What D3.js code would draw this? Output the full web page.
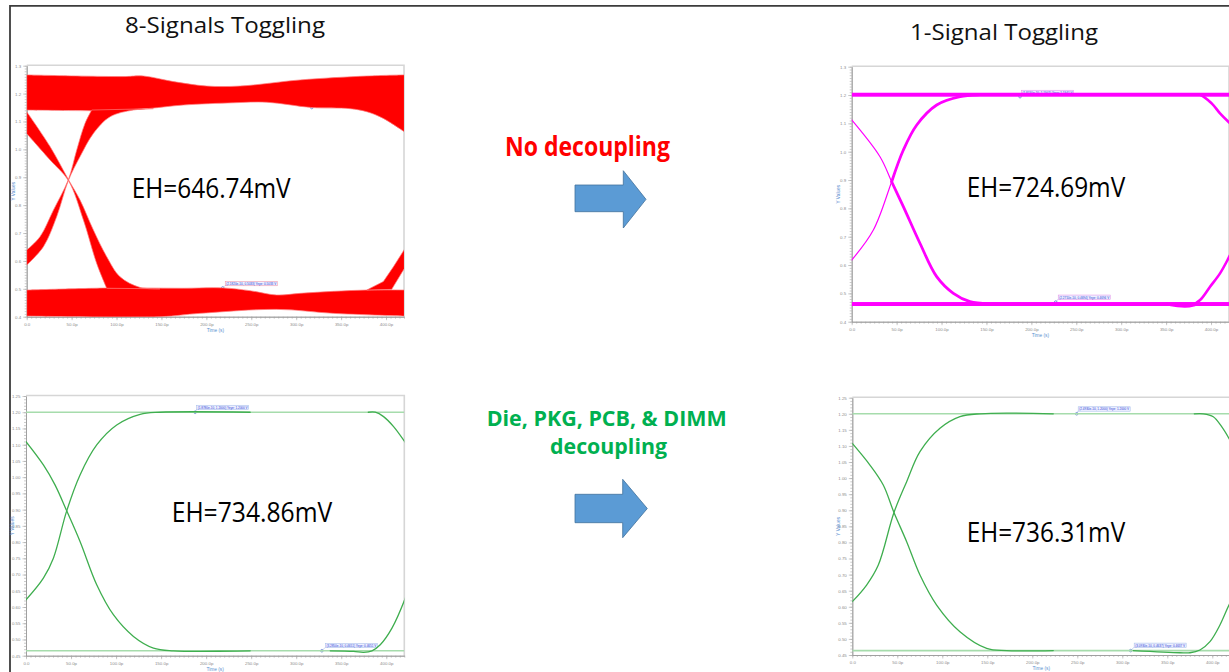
<!DOCTYPE html>
<html>
<head>
<meta charset="utf-8">
<script src="https://cdn.jsdelivr.net/npm/d3@7"></script>
<style>
  body { margin: 0; background: #fff; }
  svg { display: block; }
</style>
</head>
<body>
<svg id="c" width="1229" height="672"></svg>
<script>
// ---------------- data ----------------
// time axis (ps) and voltage ticks
const timeTicks = [0, 50, 100, 150, 200, 250, 300, 350, 400];
const voltTicksTop = [0.4, 0.5, 0.6, 0.7, 0.8, 0.9, 1.0, 1.1, 1.2, 1.3];
const voltTicksBottom = [0.45, 0.5, 0.55, 0.6, 0.65, 0.7, 0.75, 0.8, 0.85, 0.9, 0.95, 1.0, 1.05, 1.1, 1.15, 1.2, 1.25];

// eye heights (mV)
const eyeHeights = [646.74, 724.69, 734.86, 736.31];
const columnTitles = ["8-Signals Toggling", "1-Signal Toggling"];
const rowCaptions = ["No decoupling", "Die, PKG, PCB, & DIMM", "decoupling"];

// 8 signals, no decoupling: envelopes of the trace bundle [t ps, V]
const redHighOuter = [[0,1.267],[107.6,1.261],[129.9,1.263],[163.3,1.243],[200.4,1.227],[237.5,1.227],[304.3,1.249],[378.5,1.263],[420.4,1.267]];
const redHighInner = [[0,1.141],[92.8,1.139],[118.7,1.143],[137.3,1.147],[174.4,1.159],[230.1,1.167],[267.2,1.169],[317.3,1.150],[359.9,1.146],[378.5,1.135],[397,1.111],[420.4,1.063]];
const redLowInner  = [[0,0.4956],[89.1,0.5028],[129.9,0.503],[174.4,0.502],[218.2,0.5033],[248.6,0.4933],[278.3,0.4777],[304.3,0.4837],[341.4,0.4909],[378.5,0.4956],[420.4,0.4956]];
const redLowOuter  = [[0,0.4024],[148.4,0.400],[192.9,0.412],[278.3,0.4263],[341.4,0.412],[420.4,0.4024]];
const redFallUpper = [[0,1.135],[26.0,1.010],[46.4,0.892],[59.4,0.818],[74.2,0.711],[89.1,0.615],[103.9,0.543],[126.2,0.505],[148.4,0.500]];
const redFallLower = [[0,1.057],[26.0,0.962],[46.4,0.888],[63.1,0.747],[77.9,0.591],[89.1,0.502]];
const redRiseLower = [[0,0.585],[18.6,0.651],[33.4,0.759],[46.4,0.888],[59.4,0.974],[74.2,1.057],[92.8,1.117],[118.7,1.141],[141.0,1.146]];
const redRiseUpper = [[0,0.639],[14.8,0.687],[29.7,0.782],[46.4,0.892],[55.7,0.998],[64.9,1.093],[72.4,1.141]];
const redRiseRight = [[378.5,0.4956],[397.0,0.526],[408.2,0.579],[420.4,0.641],[420.4,0.573],[406.3,0.498]];
const redMarkers   = [[317.3,1.150],[218.2,0.5033]];

// 1 signal, no decoupling
const magentaHighRail = [1.1941, 1.2081];
const magentaLowRail  = [0.4554, 0.4694];
const magentaFall = [[0,1.112],[31.5,0.982],[44.5,0.894],[57.5,0.806],[76.1,0.676],[94.6,0.559],[113.2,0.5],[131.7,0.4706],[157.7,0.4624],[187.4,0.4624]];
const magentaRise = [[0,0.6176],[24.1,0.7235],[44.5,0.894],[57.5,1.0059],[72.4,1.0941],[94.6,1.1647],[120.6,1.1941],[142.9,1.2012],[172.5,1.2012]];
const magentaFallRight = [[378,1.2012],[387.8,1.2012],[400.7,1.1706],[410,1.1353],[419.3,1.1059],[425,1.09]];
const magentaRiseRight = [[365,0.4624],[378.5,0.4588],[387.8,0.4765],[398.9,0.5235],[410,0.5706],[419.3,0.6235],[425,0.66]];
const magentaLowDip = [[350.6,0.4624],[371,0.4545],[382,0.4600]];
const magentaMarkers = [[187.4,1.1941],[227.1,0.4694]];

// 8 signals, full decoupling
const greenARails = [1.20, 0.46514];
const greenAFall = [[0,1.1095],[19.3,1.0377],[32.2,0.9762],[45.2,0.8962],[60,0.8018],[78.5,0.6685],[97,0.5762],[119.3,0.5095],[141.5,0.4736],[163.7,0.4651],[248.9,0.4651]];
const greenARise = [[0,0.6223],[19.3,0.689],[30.4,0.7505],[45.2,0.8962],[60,1.0069],[78.5,1.0992],[100.7,1.1608],[126.7,1.1936],[148.9,1.2],[248.9,1.2]];
const greenAFallRight = [[380,1.2],[387.8,1.2],[397,1.1864],[408.1,1.1556],[420.4,1.1095],[425,1.09]];
const greenARiseRight = [[337.8,0.4651],[363.7,0.4633],[374.8,0.4603],[384.1,0.4651],[393.3,0.4838],[406.3,0.5351],[420.4,0.6223],[425,0.66]];
const greenAMarkers = [[187.8,1.20],[328.5,0.46514]];

// 1 signal, full decoupling
const greenBRails = [1.20, 0.46369];
const greenBFall = [[0,1.108],[19.6,1.0407],[34.4,0.9785],[46.3,0.893],[60.4,0.8023],[75.2,0.6987],[93.7,0.6054],[119.6,0.5225],[149.3,0.4707],[171.5,0.4637],[223.3,0.4637]];
const greenBRise = [[0,0.6158],[15.9,0.6676],[28.9,0.7298],[46.3,0.893],[60.4,0.9889],[75.2,1.0821],[97.4,1.1547],[119.6,1.1909],[141.9,1.2],[223.3,1.2]];
const greenBFallRight = [[380,1.2],[390,1.2],[401.1,1.1909],[410.4,1.1598],[418.5,1.1236],[425,1.09]];
const greenBRiseRight = [[312.2,0.4637],[364.1,0.457],[375.2,0.457],[386.3,0.4656],[397.4,0.4915],[408.5,0.5433],[418.5,0.6054],[425,0.64]];
const greenBMarkers = [[249.3,1.20],[309.3,0.46369]];

// ---------------- drawing ----------------
const svg = d3.select("#c");
svg.append("rect").attr("width", 1229).attr("height", 672).attr("fill", "#fff");
const defs = svg.append("defs");

const UI_FONT = "'Open Sans', 'Noto Sans', sans-serif";
const AX_FONT = "'Liberation Sans', Arial, sans-serif";

// slide frame
svg.append("path")
  .attr("d", "M10,672 V5.8 H1229")
  .attr("fill", "none").attr("stroke", "#3c3c3c").attr("stroke-width", 1.8);

function makePanel(id, box, vDomain, vTicks, vMinor, vFmt) {
  const x = d3.scaleLinear().domain([0, 420]).range([box.x0, box.x1]);
  const y = d3.scaleLinear().domain(vDomain).range([box.y1, box.y0]);
  const g = svg.append("g");

  defs.append("clipPath").attr("id", id).append("rect")
    .attr("x", box.x0).attr("y", box.y0)
    .attr("width", box.x1 - box.x0).attr("height", box.y1 - box.y0);

  // light frame along top and right
  g.append("path")
    .attr("d", `M${box.x0},${box.y0 - 0.5}H${box.x1}V${box.y1}`)
    .attr("fill", "none").attr("stroke", "#d6d6d6").attr("stroke-width", 1.6);

  const minorT = d3.range(0, 421, 5);
  const style = sel => {
    sel.select(".domain").attr("stroke", "#9c9c9c").attr("stroke-width", 0.8);
    sel.selectAll(".tick line").attr("stroke", "#a8a8a8").attr("stroke-width", 0.6);
    sel.selectAll("text").attr("font-size", 4.4).attr("fill", "#8c8c8c").attr("font-family", AX_FONT);
  };

  g.append("g").attr("transform", `translate(0,${box.y1})`)
    .call(d3.axisBottom(x).tickValues(minorT).tickSize(2).tickSizeOuter(0).tickFormat(""))
    .call(style);
  g.append("g").attr("transform", `translate(0,${box.y1})`)
    .call(d3.axisBottom(x).tickValues(timeTicks).tickSize(3.5).tickSizeOuter(0).tickPadding(2.5)
      .tickFormat(t => t === 0 ? "0.0" : `${t}.0p`))
    .call(style);

  g.append("g").attr("transform", `translate(${box.x0},0)`)
    .call(d3.axisLeft(y).tickValues(vMinor).tickSize(2).tickSizeOuter(0).tickFormat(""))
    .call(style);
  g.append("g").attr("transform", `translate(${box.x0},0)`)
    .call(d3.axisLeft(y).tickValues(vTicks).tickSize(3.5).tickSizeOuter(0).tickPadding(2)
      .tickFormat(vFmt))
    .call(style);

  g.append("text").text("Time (s)")
    .attr("x", (box.x0 + box.x1) / 2).attr("y", box.y1 + 15)
    .attr("text-anchor", "middle").attr("font-size", 4.8).attr("fill", "#5b8fd0")
    .attr("font-family", AX_FONT);
  g.append("text").text("Y Values")
    .attr("transform", `translate(${box.x0 - 12},${(box.y0 + box.y1) / 2}) rotate(-90)`)
    .attr("text-anchor", "middle").attr("font-size", 4.8).attr("fill", "#5b8fd0")
    .attr("font-family", AX_FONT);

  const plot = svg.append("g").attr("clip-path", `url(#${id})`);
  return { x, y, g, plot, box };
}

const smooth = p => d3.line().x(d => p.x(d[0])).y(d => p.y(d[1])).curve(d3.curveCatmullRom.alpha(0.5));
function bandPath(p, a, b) {
  const L = smooth(p);
  return L(a) + "L" + L(b.slice().reverse()).slice(1) + "Z";
}
function trace(p, pts, color, w) {
  p.plot.append("path").attr("d", smooth(p)(pts))
    .attr("fill", "none").attr("stroke", color).attr("stroke-width", w)
    .attr("stroke-linejoin", "round").attr("stroke-linecap", "round");
}
function hline(p, v, color, w) {
  p.plot.append("line")
    .attr("x1", p.box.x0).attr("x2", p.box.x1)
    .attr("y1", p.y(v)).attr("y2", p.y(v))
    .attr("stroke", color).attr("stroke-width", w);
}
function marker(p, m, dx, dy, label, border) {
  const cx = p.x(m[0]), cy = p.y(m[1]);
  const gm = p.g.append("g");
  gm.append("circle").attr("cx", cx).attr("cy", cy).attr("r", 1.3)
    .attr("fill", "#fff").attr("stroke", "#3b5fc0").attr("stroke-width", 0.6);
  gm.append("line").attr("x1", cx).attr("y1", cy).attr("x2", cx + dx).attr("y2", cy + dy + 4)
    .attr("stroke", "#7b8fd8").attr("stroke-width", 0.4);
  gm.append("rect").attr("x", cx + dx).attr("y", cy + dy).attr("width", 52).attr("height", 4.4)
    .attr("fill", "#eef0ff").attr("stroke", border).attr("stroke-width", 0.5);
  gm.append("text").text(label)
    .attr("x", cx + dx + 1).attr("y", cy + dy + 3.5)
    .attr("font-size", 3.4).attr("fill", "#2b3fd6").attr("font-family", AX_FONT)
    .attr("textLength", 50).attr("lengthAdjust", "spacingAndGlyphs");
}
const markLabel = m => `(${(m[0] * 1e-12).toExponential(4)}, ${m[1].toFixed(4)}) Yeye: ${m[1].toFixed(4)} V`;

const minorTop = d3.range(40, 131).map(i => i / 100);
const minorBottom = d3.range(45, 126).map(i => i / 100);
const fmt1 = v => v.toFixed(1);
const fmt2 = v => v.toFixed(2);

// ---- panel 1: 8 signals, no decoupling ----
const p1 = makePanel("clipA", { x0: 26.7, x1: 404, y0: 65.7, y1: 316.7 }, [0.4, 1.3], voltTicksTop, minorTop, fmt1);
const red = "#ff0000";
[[redHighOuter, redHighInner], [redLowInner, redLowOuter], [redFallUpper, redFallLower], [redRiseLower, redRiseUpper]]
  .forEach(([a, b]) => {
    p1.plot.append("path").attr("d", bandPath(p1, a, b))
      .attr("fill", red).attr("stroke", "#ff7a7a").attr("stroke-width", 0.7);
  });
p1.plot.append("path")
  .attr("d", d3.line().x(d => p1.x(d[0])).y(d => p1.y(d[1])).curve(d3.curveLinearClosed)(redRiseRight))
  .attr("fill", red).attr("stroke", "#ff7a7a").attr("stroke-width", 0.7);
marker(p1, redMarkers[0], 1.5, -6, markLabel(redMarkers[0]), "#f08aa0");
marker(p1, redMarkers[1], 2.5, -6.5, markLabel(redMarkers[1]), "#f08aa0");

// ---- panel 2: 1 signal, no decoupling ----
const p2 = makePanel("clipB", { x0: 851.7, x1: 1229, y0: 66.7, y1: 321.7 }, [0.4, 1.3], voltTicksTop, minorTop, fmt1);
const mag = "#ff00ff";
[magentaHighRail, magentaLowRail].forEach(r => {
  p2.plot.append("rect").attr("x", p2.box.x0).attr("width", p2.box.x1 - p2.box.x0)
    .attr("y", p2.y(r[1])).attr("height", p2.y(r[0]) - p2.y(r[1])).attr("fill", mag);
});
trace(p2, magentaFall, mag, 1.2);
trace(p2, magentaRise, mag, 1.2);
trace(p2, magentaFall.filter(d => d[0] >= 44.5), mag, 2.8);
trace(p2, magentaRise.filter(d => d[0] >= 44.5), mag, 2.8);
trace(p2, magentaFallRight, mag, 2.6);
trace(p2, magentaRiseRight, mag, 2.6);
trace(p2, magentaLowDip, mag, 3);
marker(p2, magentaMarkers[0], 1.5, -6.5, markLabel(magentaMarkers[0]), "#e08ae8");
marker(p2, magentaMarkers[1], 2.5, -7, markLabel(magentaMarkers[1]), "#e08ae8");

// ---- panels 3 & 4: full decoupling ----
const gLight = "#a6dcac", gDark = "#3fae4f";
function greenPanel(id, box, rails, fall, rise, fallR, riseR, marks) {
  const p = makePanel(id, box, [0.45, 1.25], voltTicksBottom, minorBottom, fmt2);
  hline(p, rails[0], gLight, 1.6);
  hline(p, rails[1], gLight, 1.6);
  trace(p, fall, gDark, 1.3);
  trace(p, rise, gDark, 1.3);
  trace(p, fallR, gDark, 1.3);
  trace(p, riseR, gDark, 1.3);
  marker(p, marks[0], 1.5, -7, markLabel(marks[0]), "#9fb8e8");
  marker(p, marks[1], 3.5, -7.5, markLabel(marks[1]), "#9fb8e8");
  return p;
}
greenPanel("clipC", { x0: 26, x1: 404.3, y0: 396, y1: 655.7 }, greenARails, greenAFall, greenARise, greenAFallRight, greenARiseRight, greenAMarkers);
greenPanel("clipD", { x0: 852.3, x1: 1230.3, y0: 397.7, y1: 655 }, greenBRails, greenBFall, greenBRise, greenBFallRight, greenBRiseRight, greenBMarkers);

// ---------------- slide text ----------------
function label(txt, x, y, size, len, color, weight) {
  svg.append("text").text(txt)
    .attr("x", x).attr("y", y).attr("font-size", size)
    .attr("font-family", UI_FONT).attr("fill", color).attr("font-weight", weight || 400)
    .attr("textLength", len).attr("lengthAdjust", "spacingAndGlyphs");
}
label(columnTitles[0], 125, 32.5, 21, 200, "#111");
label(columnTitles[1], 910, 40.3, 21, 188, "#111");

const ehText = v => `EH=${v.toFixed(2)}mV`;
label(ehText(eyeHeights[0]), 131.7, 198.3, 28, 159, "#000");
label(ehText(eyeHeights[1]), 966.7, 196.7, 28, 158.5, "#000");
label(ehText(eyeHeights[2]), 171.7, 521.7, 28, 160.5, "#000");
label(ehText(eyeHeights[3]), 966.7, 541.7, 28, 158.5, "#000");

label(rowCaptions[0], 505, 155.5, 26, 165, "#ff0000", 700);
label(rowCaptions[1], 486.7, 425.5, 21, 240, "#00b050", 700);
label(rowCaptions[2], 550, 453.8, 21, 117, "#00b050", 700);

// block arrows
function arrow(x0, xNeck, xTip, yBodyTop, yBodyBot, yHeadTop, yHeadBot) {
  const yMid = (yHeadTop + yHeadBot) / 2;
  svg.append("path")
    .attr("d", `M${x0},${yBodyTop}H${xNeck}V${yHeadTop}L${xTip},${yMid}L${xNeck},${yHeadBot}V${yBodyBot}H${x0}Z`)
    .attr("fill", "#5b9bd5").attr("stroke", "#41719c").attr("stroke-width", 0.8);
}
arrow(575, 623.3, 646, 185, 211.7, 170.7, 228);
arrow(575, 622.7, 647.3, 494.3, 522.7, 479.3, 537.7);
</script>
</body>
</html>
